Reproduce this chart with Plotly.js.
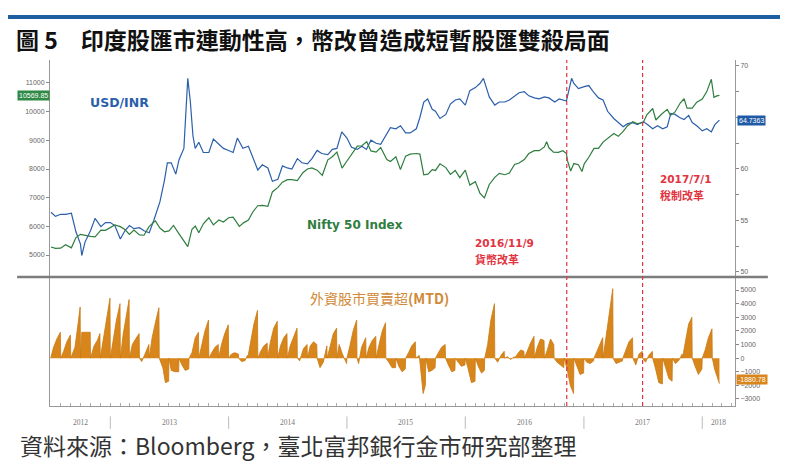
<!DOCTYPE html>
<html>
<head>
<meta charset="utf-8">
<script src="https://cdn.plot.ly/plotly-3.0.1.min.js"></script>
<style>html,body{margin:0;padding:0;background:#fff;}#chart{width:800px;height:472px;}</style>
</head>
<body>
<div id="chart"></div>
<script>
// ---------- DATA ----------
const niftyDates = ['2012-07-02','2012-07-16','2012-08-01','2012-08-16','2012-09-03','2012-09-17','2012-10-01','2012-10-15','2012-11-01','2012-11-15','2012-12-03','2012-12-17',
'2013-01-01','2013-01-15','2013-02-01','2013-02-15','2013-03-01','2013-03-15','2013-04-01','2013-04-15','2013-05-01','2013-05-20','2013-06-03','2013-06-17','2013-07-01','2013-07-15','2013-08-01','2013-08-16','2013-08-28','2013-09-10','2013-09-20','2013-10-01','2013-10-15','2013-11-01','2013-11-15','2013-12-02','2013-12-16',
'2014-01-01','2014-01-15','2014-02-03','2014-02-17','2014-03-03','2014-03-17','2014-04-01','2014-04-15','2014-05-02','2014-05-16','2014-06-02','2014-06-16','2014-07-01','2014-07-15','2014-08-01','2014-08-18','2014-09-01','2014-09-15','2014-10-01','2014-10-17','2014-11-03','2014-11-17','2014-12-01','2014-12-17',
'2015-01-01','2015-01-15','2015-02-02','2015-02-16','2015-03-03','2015-03-16','2015-04-01','2015-04-15','2015-05-04','2015-05-15','2015-06-01','2015-06-15','2015-07-01','2015-07-15','2015-08-03','2015-08-14','2015-08-26','2015-09-08','2015-09-21','2015-10-01','2015-10-15','2015-11-02','2015-11-16','2015-12-01','2015-12-15',
'2016-01-01','2016-01-15','2016-02-01','2016-02-15','2016-02-29','2016-03-15','2016-04-01','2016-04-15','2016-05-02','2016-05-16','2016-06-01','2016-06-15','2016-07-01','2016-07-15','2016-08-01','2016-08-16','2016-09-01','2016-09-08','2016-09-15','2016-09-29','2016-10-14','2016-10-28','2016-11-08','2016-11-11','2016-11-21','2016-12-01','2016-12-15','2016-12-26',
'2017-01-02','2017-01-16','2017-02-01','2017-02-15','2017-03-01','2017-03-15','2017-04-03','2017-04-17','2017-05-02','2017-05-16','2017-06-01','2017-06-15','2017-07-03','2017-07-14','2017-08-01','2017-08-11','2017-08-28','2017-09-15','2017-09-25','2017-10-09','2017-10-25','2017-11-06','2017-11-15','2017-12-01','2017-12-15',
'2018-01-01','2018-01-15','2018-01-29','2018-02-06','2018-02-15','2018-02-23'];
const niftyVals = [5280,5230,5240,5360,5250,5610,5720,5680,5650,5630,5870,5860,
5950,6050,5990,5890,5720,5870,5700,5690,6000,6190,5940,5810,5840,6030,5740,5510,5290,5900,6010,5780,6090,6300,6050,6220,6150,
6300,6320,6000,6130,6220,6510,6720,6730,6700,7200,7360,7540,7630,7630,7600,7870,8000,8040,7960,7780,8320,8430,8590,8030,
8280,8490,8800,8810,8950,8630,8590,8750,8330,8260,8430,7980,8450,8520,8540,8520,7800,7820,7980,7950,8180,8050,7810,7950,7700,
7960,7440,7560,7160,6990,7460,7710,7850,7800,7860,8160,8210,8330,8540,8640,8640,8770,8950,8740,8590,8580,8640,8540,8300,7930,8190,8150,7910,
8180,8410,8720,8720,8940,9080,9240,9140,9310,9510,9650,9580,9620,9890,10110,9710,9910,10080,9870,9990,10300,10450,10120,10120,10330,
10440,10700,11130,10500,10550,10570];

const inrDates = ['2012-07-02','2012-07-16','2012-08-01','2012-08-16','2012-09-03','2012-09-17','2012-10-01','2012-10-05','2012-10-15','2012-11-01','2012-11-15','2012-12-03','2012-12-17',
'2013-01-01','2013-01-15','2013-02-01','2013-02-15','2013-03-01','2013-03-15','2013-04-01','2013-04-15','2013-05-01','2013-05-15','2013-06-03','2013-06-17','2013-06-26','2013-07-08','2013-07-22','2013-08-01','2013-08-16','2013-08-28','2013-09-05','2013-09-13','2013-09-20','2013-10-01','2013-10-15','2013-11-01','2013-11-15','2013-12-02','2013-12-16',
'2014-01-01','2014-01-15','2014-01-28','2014-02-14','2014-03-03','2014-03-17','2014-04-01','2014-04-15','2014-05-02','2014-05-16','2014-06-02','2014-06-16','2014-07-01','2014-07-15','2014-08-01','2014-08-15','2014-09-01','2014-09-15','2014-10-01','2014-10-15','2014-11-03','2014-11-17','2014-12-01','2014-12-16',
'2015-01-01','2015-01-15','2015-02-02','2015-02-16','2015-03-02','2015-03-16','2015-04-01','2015-04-15','2015-05-04','2015-05-15','2015-06-01','2015-06-15','2015-07-01','2015-07-15','2015-08-03','2015-08-14','2015-08-26','2015-09-07','2015-09-21','2015-10-01','2015-10-15','2015-11-02','2015-11-16','2015-12-01','2015-12-15',
'2016-01-01','2016-01-15','2016-02-01','2016-02-15','2016-02-26','2016-03-15','2016-04-01','2016-04-15','2016-05-02','2016-05-16','2016-06-01','2016-06-15','2016-07-01','2016-07-15','2016-08-01','2016-08-16','2016-09-01','2016-09-15','2016-10-03','2016-10-17','2016-11-08','2016-11-11','2016-11-24','2016-12-01','2016-12-15',
'2017-01-02','2017-01-16','2017-02-01','2017-02-15','2017-03-01','2017-03-15','2017-04-03','2017-04-17','2017-05-02','2017-05-16','2017-06-01','2017-06-15','2017-07-03','2017-07-17','2017-08-01','2017-08-16','2017-09-01','2017-09-15','2017-09-26','2017-10-09','2017-10-23','2017-11-06','2017-11-20','2017-12-01','2017-12-15',
'2018-01-01','2018-01-15','2018-01-29','2018-02-09','2018-02-23'];
const inrVals = [55.8,55.4,55.6,55.6,55.7,53.9,52.7,51.6,52.9,54.0,55.2,54.4,54.8,
54.8,54.5,53.2,54.0,54.5,54.2,54.3,54.0,53.8,55.0,56.8,58.9,60.6,60.6,59.5,60.9,62.0,68.8,66.5,63.2,62.0,62.6,61.6,61.6,62.9,62.4,62.0,
61.8,61.6,63.0,62.0,62.2,61.1,59.9,60.4,60.1,58.8,59.0,60.3,60.1,60.0,61.0,60.6,60.5,61.0,61.8,61.5,61.4,61.9,62.0,63.6,
63.0,62.1,61.9,62.2,61.9,62.8,62.5,62.4,63.5,64.0,63.9,64.2,63.5,63.5,63.9,65.0,66.5,66.8,65.8,65.6,64.9,65.3,66.3,66.7,66.8,
66.2,67.6,67.9,68.3,68.8,67.0,66.2,66.5,66.5,66.7,67.1,67.4,67.5,67.1,66.9,66.8,67.0,66.9,66.5,66.8,66.6,67.0,68.8,68.3,67.8,
68.0,68.1,67.4,66.9,66.7,65.6,64.9,64.5,64.1,64.4,64.5,64.3,64.6,64.3,63.9,64.2,63.9,64.1,65.4,65.3,65.0,64.8,65.2,64.5,64.2,
63.7,63.9,63.6,64.3,64.74];

const flowDates = [
'2012-07-01','2012-07-10','2012-07-20','2012-07-31','2012-08-01','2012-08-10','2012-08-20','2012-08-31','2012-09-01','2012-09-14','2012-09-24','2012-09-30',
'2012-10-01','2012-10-05','2012-10-20','2012-10-31','2012-11-01','2012-11-12','2012-11-22','2012-11-30','2012-12-01','2012-12-10','2012-12-20','2012-12-31',
'2013-01-01','2013-01-10','2013-01-20','2013-01-31','2013-02-01','2013-02-10','2013-02-20','2013-02-28','2013-03-01','2013-03-10','2013-03-20','2013-03-31',
'2013-04-01','2013-04-08','2013-04-18','2013-04-30','2013-05-01','2013-05-10','2013-05-22','2013-05-31','2013-06-01','2013-06-12','2013-06-20','2013-06-30',
'2013-07-01','2013-07-08','2013-07-20','2013-07-31','2013-08-01','2013-08-10','2013-08-20','2013-08-31','2013-09-01','2013-09-10','2013-09-20','2013-09-30',
'2013-10-01','2013-10-10','2013-10-20','2013-10-31','2013-11-01','2013-11-10','2013-11-20','2013-11-30','2013-12-01','2013-12-10','2013-12-20','2013-12-31',
'2014-01-01','2014-01-10','2014-01-20','2014-01-31','2014-02-01','2014-02-10','2014-02-20','2014-02-28','2014-03-01','2014-03-10','2014-03-20','2014-03-31',
'2014-04-01','2014-04-10','2014-04-20','2014-04-30','2014-05-01','2014-05-10','2014-05-20','2014-05-31','2014-06-01','2014-06-10','2014-06-20','2014-06-30',
'2014-07-01','2014-07-10','2014-07-20','2014-07-31','2014-08-01','2014-08-08','2014-08-20','2014-08-31','2014-09-01','2014-09-10','2014-09-20','2014-09-30',
'2014-10-01','2014-10-10','2014-10-20','2014-10-31','2014-11-01','2014-11-10','2014-11-20','2014-11-30','2014-12-01','2014-12-08','2014-12-18','2014-12-31',
'2015-01-01','2015-01-10','2015-01-20','2015-01-31','2015-02-01','2015-02-06','2015-02-15','2015-02-28','2015-03-01','2015-03-10','2015-03-20','2015-03-31',
'2015-04-01','2015-04-10','2015-04-20','2015-04-30','2015-05-01','2015-05-10','2015-05-20','2015-05-31','2015-06-01','2015-06-10','2015-06-20','2015-06-30',
'2015-07-01','2015-07-10','2015-07-20','2015-07-31','2015-08-01','2015-08-12','2015-08-24','2015-08-31','2015-09-01','2015-09-10','2015-09-20','2015-09-30',
'2015-10-01','2015-10-10','2015-10-20','2015-10-31','2015-11-01','2015-11-10','2015-11-20','2015-11-30','2015-12-01','2015-12-10','2015-12-20','2015-12-31',
'2016-01-01','2016-01-10','2016-01-20','2016-01-31','2016-02-01','2016-02-10','2016-02-20','2016-02-29','2016-03-01','2016-03-10','2016-03-20','2016-03-31',
'2016-04-01','2016-04-10','2016-04-20','2016-04-30','2016-05-01','2016-05-10','2016-05-20','2016-05-31','2016-06-01','2016-06-10','2016-06-20','2016-06-30',
'2016-07-01','2016-07-10','2016-07-20','2016-07-31','2016-08-01','2016-08-10','2016-08-20','2016-08-31','2016-09-01','2016-09-10','2016-09-20','2016-09-30',
'2016-10-01','2016-10-10','2016-10-20','2016-10-31','2016-11-01','2016-11-10','2016-11-20','2016-11-30','2016-12-01','2016-12-10','2016-12-20','2016-12-31',
'2017-01-01','2017-01-10','2017-01-20','2017-01-31','2017-02-01','2017-02-10','2017-02-20','2017-02-28','2017-03-01','2017-03-10','2017-03-20','2017-03-31',
'2017-04-01','2017-04-10','2017-04-20','2017-04-30','2017-05-01','2017-05-10','2017-05-20','2017-05-31','2017-06-01','2017-06-10','2017-06-20','2017-06-30',
'2017-07-01','2017-07-10','2017-07-20','2017-07-31','2017-08-01','2017-08-10','2017-08-20','2017-08-31','2017-09-01','2017-09-10','2017-09-20','2017-09-30',
'2017-10-01','2017-10-10','2017-10-20','2017-10-31','2017-11-01','2017-11-10','2017-11-20','2017-11-30','2017-12-01','2017-12-10','2017-12-20','2017-12-31',
'2018-01-01','2018-01-10','2018-01-20','2018-01-31','2018-02-01','2018-02-08','2018-02-16','2018-02-23'];
const flowVals = [
0,800,1400,1900, 0,500,1200,1700, 0,800,2600,3750,
0,1900,1900,1900, 0,900,1300,1800, 0,1300,3000,4400,
0,1500,2800,4000, 0,1800,3200,4300, 0,1000,1400,1800,
0,-250,300,1000, 0,1500,2800,3700, 0,-700,-1800,-1700,
0,-900,-1000,-1000, 0,-500,-900,-800, 0,400,1500,1900,
0,900,2000,2800, 0,400,800,1000, 0,1000,1800,2450,
0,300,400,300, 0,-250,-200,200, 0,1200,2500,3500,
0,500,900,1100, 0,1200,2200,2700, 0,900,1500,1800,
0,900,1600,2200, 0,-200,700,1000, 0,900,1200,1000,
0,-700,-300,900, 0,800,1800,2200, 0,1000,300,-400,
0,900,2000,2800, 0,-400,800,1500, 0,800,1300,1600,
0,1000,2000,2600, 0,-300,-700,-700, 0,-600,-1000,-800,
0,400,900,1200, 0,200,-2600,-2000, 0,-1000,-900,-700,
0,400,800,1000, 0,-500,-1000,-900, 0,-300,-600,-500,
0,-800,-1800,-1700, 0,-600,-1100,-900, 0,1000,2800,4000,
0,-300,200,500, 0,100,-100,100, 0,300,600,500,
0,500,1100,1600, 0,800,1400,1300, 0,600,1400,1000,
0,-300,-500,-700, 0,-800,-2000,-2600, 0,-600,-1200,-1100,
0,-300,-400,-200, 0,500,1100,1500, 0,1500,3500,5100,
0,-400,-300,-200, 0,600,1200,1500, 0,-500,300,500,
0,-300,200,500, 0,-800,-1800,-1900, 0,-700,-1500,-1700,
0,-400,-200,300, 0,1200,2500,3000, 0,-600,-1200,-800,
0,600,1500,2150, 0,-800,-1400,-1880];

const eventDates = ['2016-11-09','2017-07-01'];
const eventLabels = ['2016/11/9','2017/7/1'];
const eventNotes = ['貨幣改革','稅制改革'];
const yearLabels = ['2012','2013','2014','2015','2016','2017','2018'];
const yearLabelDates = ['2012-10-01','2013-07-02','2014-07-02','2015-07-02','2016-07-01','2017-07-02','2018-02-20'];
const yearBounds = ['2013-01-01','2014-01-01','2015-01-01','2016-01-01','2017-01-01','2018-01-01'];
const inrTicks = [50,55,60,70];
const lastNifty = '10569.85', lastInr = '64.7363', lastFlow = '-1880.78';

// ---------- CHART ----------
const CJK = '"Noto Sans CJK TC", "Noto Sans", sans-serif';
const TICKF = {family:'Liberation Sans, Arial, sans-serif', size:7, color:'#666'};
const RED = '#e2343f';

const traces = [
  {x: inrDates, y: inrVals, xaxis:'x', yaxis:'y', type:'scatter', mode:'lines',
   line:{color:'#2b5fab', width:1.2}, hoverinfo:'skip'},
  {x: niftyDates, y: niftyVals, xaxis:'x', yaxis:'y2', type:'scatter', mode:'lines',
   line:{color:'#2f7d3f', width:1.2}, hoverinfo:'skip'},
  {x: flowDates, y: flowVals, xaxis:'x', yaxis:'y3', type:'scatter', mode:'lines',
   fill:'tozeroy', fillcolor:'#d8861c', line:{color:'#c97a10', width:0.8}, hoverinfo:'skip'}
];

const shapes = [
  {type:'line', xref:'paper', yref:'paper', x0:-0.0613, x1:1.0657, y0:1.124, y1:1.124, line:{color:'#1d5fa0', width:4}},
  {type:'line', xref:'paper', yref:'paper', x0:-0.048, x1:1.048, y0:0.3728, y1:0.3728, line:{color:'#7d7d7d', width:2.5}}
];
eventDates.forEach(d => shapes.push({type:'line', xref:'x', yref:'paper', x0:d, x1:d, y0:0, y1:1,
  line:{color:RED, width:1.2, dash:'4px,3px'}}));
yearBounds.forEach(d => shapes.push({type:'line', xref:'x', yref:'paper', x0:d, x1:d, y0:-0.03, y1:-0.066,
  line:{color:'#bbbbbb', width:1}}));

const annotations = [
  {xref:'paper', yref:'paper', x:0.0555, y:0.876, xanchor:'left', yanchor:'middle', showarrow:false,
   text:'<b>USD/INR</b>', font:{family:'DejaVu Sans, sans-serif', size:12.5, color:'#2b5fab'}},
  {xref:'paper', yref:'paper', x:0.372, y:0.523, xanchor:'left', yanchor:'middle', showarrow:false,
   text:'<b>Nifty 50 Index</b>', font:{family:'DejaVu Sans, sans-serif', size:12, color:'#2f7d3f'}},
  {xref:'paper', yref:'paper', x:0.6175, y:0.470, xanchor:'left', yanchor:'middle', showarrow:false,
   text:'<b>'+eventLabels[0]+'</b>', font:{family:'DejaVu Sans, sans-serif', size:10.5, color:RED}},
  {xref:'paper', yref:'paper', x:0.6175, y:0.425, xanchor:'left', yanchor:'middle', showarrow:false,
   text:eventNotes[0], font:{family:CJK, size:11, color:RED, weight:700}},
  {xref:'paper', yref:'paper', x:0.8876, y:0.655, xanchor:'left', yanchor:'middle', showarrow:false,
   text:'<b>'+eventLabels[1]+'</b>', font:{family:'DejaVu Sans, sans-serif', size:10.5, color:RED}},
  {xref:'paper', yref:'paper', x:0.8876, y:0.610, xanchor:'left', yanchor:'middle', showarrow:false,
   text:eventNotes[1], font:{family:CJK, size:11, color:RED, weight:700}},
  {xref:'paper', yref:'paper', x:0.3766, y:0.312, xanchor:'left', yanchor:'middle', showarrow:false,
   text:'外資股市買賣超<b>(MTD)</b>', font:{family:CJK, size:14, color:'#d08a38'}},
  {xref:'paper', yref:'paper', x:-0.0248, y:0.896, xanchor:'center', yanchor:'middle', showarrow:false,
   text:lastNifty, bgcolor:'#2f8a45', borderpad:1, font:{family:'Liberation Sans, sans-serif', size:7, color:'#fff'}},
  {xref:'paper', yref:'paper', x:1.0248, y:0.8237, xanchor:'center', yanchor:'middle', showarrow:false,
   text:lastInr, bgcolor:'#1f5aa6', borderpad:1, font:{family:'Liberation Sans, sans-serif', size:7, color:'#fff'}},
  {xref:'paper', yref:'paper', x:1.0248, y:0.078, xanchor:'center', yanchor:'middle', showarrow:false,
   text:lastFlow, bgcolor:'#d8861c', borderpad:1, font:{family:'Liberation Sans, sans-serif', size:7, color:'#fff'}},
  {xref:'paper', yref:'paper', x:-0.0467, y:-0.113, xanchor:'left', yanchor:'middle', showarrow:false,
   text:'資料來源：Bloomberg，臺北富邦銀行金市研究部整理', font:{family:CJK, size:23, color:'#333'}}
];
yearLabels.forEach((t,i) => annotations.push({xref:'x', yref:'paper', x:yearLabelDates[i], y:-0.048,
  xanchor:'center', yanchor:'middle', showarrow:false, text:t, font:{family:'Liberation Serif, serif', size:7.5, color:'#777'}}));

const layout = {
  width:800, height:472,
  margin:{l:50, r:65, t:60, b:66},
  paper_bgcolor:'#fff', plot_bgcolor:'#fff',
  showlegend:false,
  title:{text:'圖 5　印度股匯市連動性高，幣改曾造成短暫股匯雙殺局面', xref:'container', yref:'container',
    x:16/800, xanchor:'left', y:1-41/472, yanchor:'middle',
    font:{family:CJK, size:23, color:'#111', weight:700}},
  xaxis:{type:'date', range:['2012-06-29','2018-04-12'], anchor:'y3', domain:[0,1],
    showgrid:false, zeroline:false, showline:true, linecolor:'#999', linewidth:1,
    ticks:'inside', ticklen:3, tickcolor:'#aaa', dtick:'M1', tick0:'2012-07-01', showticklabels:false},
  yaxis:{domain:[0.3728,1], anchor:'x', side:'right', range:[49.51,70.58], tickmode:'array', tickvals:inrTicks,
    ticks:'outside', ticklen:3, tickcolor:'#888', showline:true, linecolor:'#999', linewidth:1,
    showgrid:false, zeroline:false, tickfont:TICKF,
    minor:{dtick:2.5, tick0:50, ticks:'outside', ticklen:3, tickcolor:'#888', showgrid:false}},
  yaxis2:{overlaying:'y', anchor:'x', side:'left', range:[4233,11802], dtick:1000, tick0:0,
    tickformat:'d', ticks:'outside', ticklen:3, tickcolor:'#888', showline:true, linecolor:'#999', linewidth:1,
    showgrid:false, zeroline:false, tickfont:TICKF},
  yaxis3:{domain:[0,0.3728], anchor:'x', side:'right', range:[-3515,5956], dtick:1000, tick0:0,
    tickformat:'d', ticks:'outside', ticklen:3, tickcolor:'#888', showline:true, mirror:true,
    linecolor:'#999', linewidth:1, showgrid:false, zeroline:false, tickfont:TICKF},
  shapes: shapes,
  annotations: annotations
};

Plotly.newPlot('chart', traces, layout, {staticPlot:true, displayModeBar:false});
</script>
</body>
</html>
